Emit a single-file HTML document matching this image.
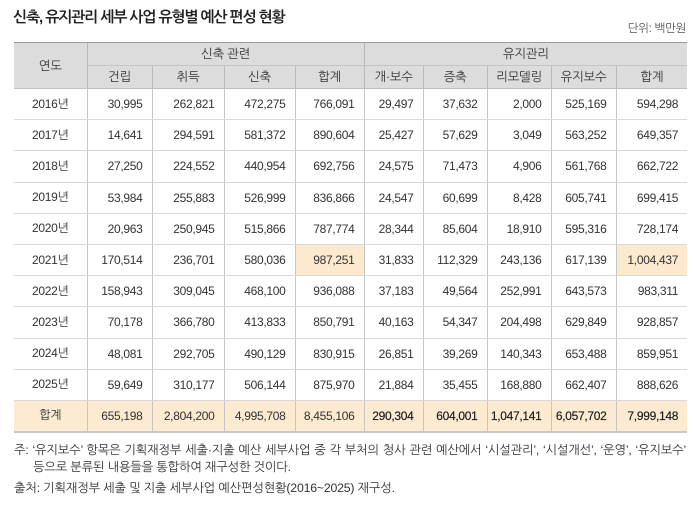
<!DOCTYPE html>
<html><head><meta charset="utf-8">
<style>
*{margin:0;padding:0;box-sizing:border-box;}
html,body{width:700px;height:506px;background:#fff;overflow:hidden;}
body{position:relative;font-family:"Liberation Sans","NanumGothic","Noto Sans CJK KR",sans-serif;color:#333;}
.title{position:absolute;left:13px;top:9px;font-size:15px;font-weight:bold;color:#222;letter-spacing:-1.1px;white-space:nowrap;}
.unit{position:absolute;right:14px;top:21px;font-size:11.5px;color:#555;white-space:nowrap;letter-spacing:-0.3px;}
table{position:absolute;left:14px;top:42px;width:673px;border-collapse:collapse;table-layout:fixed;font-size:12px;letter-spacing:-0.3px;}
td,th{font-weight:normal;padding:0;white-space:nowrap;}
thead th{background:#dcdcdc;color:#333;text-align:center;font-size:12.5px;border-left:1px solid #b8b8b8;}
thead tr:first-child th{border-top:1px solid #9c9c9c;}
thead tr.h1 th{height:23px;border-bottom:1px solid #c4c4c4;}
thead tr.h2 th{height:23px;border-bottom:1px solid #bdbdbd;}
thead th.first{border-left:none;border-bottom:1px solid #bdbdbd;}
tbody td{border-left:1px solid #c6c6c6;border-bottom:1px solid #d9d9d9;text-align:right;padding-right:9px;color:#333;}
tbody td:first-child{border-left:none;text-align:center;padding-right:0;}
tbody tr{height:31.2px;}
tbody td.hl{background:#fde9cd;}
tbody tr.tot td{background:#fcead1;border-bottom:2px solid #c8c8c8;height:31px;}
tbody tr.tot td.b{color:#1a1a1a;-webkit-text-stroke:0.15px #1a1a1a;}
.note{position:absolute;left:14px;width:672px;font-size:12.3px;color:#333;letter-spacing:-0.2px;white-space:nowrap;}
.n1{top:442px;text-align:justify;text-align-last:justify;}
.n2{top:459px;left:33px;}
.n3{top:480px;}
</style></head>
<body>
<div class="title">신축, 유지관리 세부 사업 유형별 예산 편성 현황</div>
<div class="unit">단위: 백만원</div>
<table>
<colgroup>
<col style="width:73px"><col style="width:65px"><col style="width:72px"><col style="width:71px"><col style="width:69px"><col style="width:59px"><col style="width:64px"><col style="width:64px"><col style="width:65px"><col style="width:71px">
</colgroup>
<thead>
<tr class="h1"><th class="first" rowspan="2">연도</th><th colspan="4">신축 관련</th><th colspan="5">유지관리</th></tr>
<tr class="h2"><th>건립</th><th>취득</th><th>신축</th><th>합계</th><th>개·보수</th><th>증축</th><th>리모델링</th><th>유지보수</th><th>합계</th></tr>
</thead>
<tbody>
<tr><td>2016년</td><td>30,995</td><td>262,821</td><td>472,275</td><td>766,091</td><td>29,497</td><td>37,632</td><td>2,000</td><td>525,169</td><td>594,298</td></tr>
<tr><td>2017년</td><td>14,641</td><td>294,591</td><td>581,372</td><td>890,604</td><td>25,427</td><td>57,629</td><td>3,049</td><td>563,252</td><td>649,357</td></tr>
<tr><td>2018년</td><td>27,250</td><td>224,552</td><td>440,954</td><td>692,756</td><td>24,575</td><td>71,473</td><td>4,906</td><td>561,768</td><td>662,722</td></tr>
<tr><td>2019년</td><td>53,984</td><td>255,883</td><td>526,999</td><td>836,866</td><td>24,547</td><td>60,699</td><td>8,428</td><td>605,741</td><td>699,415</td></tr>
<tr><td>2020년</td><td>20,963</td><td>250,945</td><td>515,866</td><td>787,774</td><td>28,344</td><td>85,604</td><td>18,910</td><td>595,316</td><td>728,174</td></tr>
<tr><td>2021년</td><td>170,514</td><td>236,701</td><td>580,036</td><td class="hl">987,251</td><td>31,833</td><td>112,329</td><td>243,136</td><td>617,139</td><td class="hl">1,004,437</td></tr>
<tr><td>2022년</td><td>158,943</td><td>309,045</td><td>468,100</td><td>936,088</td><td>37,183</td><td>49,564</td><td>252,991</td><td>643,573</td><td>983,311</td></tr>
<tr><td>2023년</td><td>70,178</td><td>366,780</td><td>413,833</td><td>850,791</td><td>40,163</td><td>54,347</td><td>204,498</td><td>629,849</td><td>928,857</td></tr>
<tr><td>2024년</td><td>48,081</td><td>292,705</td><td>490,129</td><td>830,915</td><td>26,851</td><td>39,269</td><td>140,343</td><td>653,488</td><td>859,951</td></tr>
<tr><td>2025년</td><td>59,649</td><td>310,177</td><td>506,144</td><td>875,970</td><td>21,884</td><td>35,455</td><td>168,880</td><td>662,407</td><td>888,626</td></tr>
<tr class="tot"><td>합계</td><td>655,198</td><td>2,804,200</td><td>4,995,708</td><td>8,455,106</td><td class="b">290,304</td><td class="b">604,001</td><td class="b">1,047,141</td><td class="b">6,057,702</td><td class="b">7,999,148</td></tr>
</tbody>
</table>
<div class="note n1">주: ‘유지보수’ 항목은 기획재정부 세출·지출 예산 세부사업 중 각 부처의 청사 관련 예산에서 ‘시설관리’, ‘시설개선’, ‘운영’, ‘유지보수’</div>
<div class="note n2">등으로 분류된 내용들을 통합하여 재구성한 것이다.</div>
<div class="note n3">출처: 기획재정부 세출 및 지출 세부사업 예산편성현황(2016~2025) 재구성.</div>
</body></html>
